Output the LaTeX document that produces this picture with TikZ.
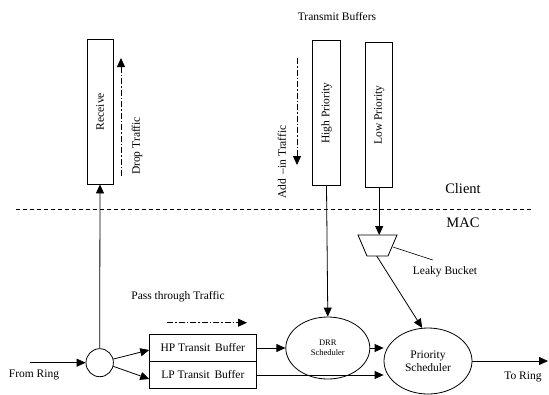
\documentclass[tikz,border=0pt]{standalone}
\usepackage{fontspec}
\setmainfont{Liberation Serif}
\usetikzlibrary{arrows.meta,shapes.geometric,calc}
\begin{document}
\begin{tikzpicture}[x=1pt,y=-1pt,
  line width=0.8pt,
  every node/.style={font=\fontsize{11.5}{13.5}\selectfont},
  arr/.style={-{Triangle[length=9pt,width=8pt]}},
  flow/.style={arr,dash pattern=on 6pt off 2pt on 1.5pt off 2pt},
  bufbox/.style={draw,rectangle,inner sep=0pt},
  sched/.style={draw,ellipse,inner sep=0pt,align=center},
  lbl/.style={inner sep=0pt},
  big/.style={inner sep=0pt,font=\fontsize{14.5}{16}\selectfont}]
\useasboundingbox (0,0) rectangle (549,394);
% client buffers
\node[bufbox,minimum width=26pt,minimum height=145pt] (recv) at (100,111.5) {};
\node[lbl,rotate=90] at (recv) {Receive};
\node[bufbox,minimum width=27.6pt,minimum height=145pt] (hp) at (326.5,113.2) {};
\node[lbl,rotate=90] at (hp) {High Priority};
\node[bufbox,minimum width=27pt,minimum height=144.6pt] (lp) at (379.2,115) {};
\node[lbl,rotate=90] at (lp) {Low Priority};
\node[lbl] (tb) at (337,17) {Transmit Buffers};
% traffic arrows
\coordinate (d1) at (121,176); \coordinate (d2) at (121,58);
\draw[flow] (d1) -- (d2);
\node[lbl,rotate=90] (dt) at (137,146) {Drop Traffic};
\coordinate (a1) at (297,58); \coordinate (a2) at (297,165);
\draw[flow] (a1) -- (a2);
\node[lbl,rotate=90] (at) at (282,162) {Add \,\textendash in Traffic};
% separator
\coordinate (s1) at (16,209.3); \coordinate (s2) at (533,209.3);
\draw[dash pattern=on 4pt off 3pt] (s1) -- (s2);
\node[big] (client) at (463,189) {Client};
\node[big] (mac) at (463,223) {MAC};
% ring side
\node[draw,ellipse,minimum width=27.4pt,minimum height=28pt,inner sep=0pt] (circ) at (99.7,362.7) {};
\coordinate (fr) at (30,362.7);
\draw[arr] (fr) -- (circ.west);
\node[lbl] (frt) at (34,374.5) {From Ring};
\draw[arr] (circ.north) -- (recv.south);
\node[bufbox,minimum width=106.3pt,minimum height=27.4pt] (hpbuf) at (202.8,348) {HP Transit\, Buffer};
\node[bufbox,minimum width=106.3pt,minimum height=26.6pt] (lpbuf) at (202.8,375) {LP Transit\, Buffer};
\draw[arr] (circ.15) -- ([yshift=-2pt]hpbuf.west);
\draw[arr] (circ.-15) -- ([yshift=-4pt]lpbuf.west);
\node[lbl] (pt) at (178,297) {Pass through Traffic};
\coordinate (p1) at (167,322.7); \coordinate (p2) at (247,322.7);
\draw[flow] (p1) -- (p2);
% schedulers
\node[sched,minimum width=84pt,minimum height=62pt,font=\fontsize{8.5}{10}\selectfont] (drr) at (327.8,348) {DRR\\Scheduler};
\node[sched,minimum width=88pt,minimum height=66pt] (prio) at (428,361) {Priority\\Scheduler};
\draw[arr] (hpbuf.east) -- (drr.west);
\draw[arr] (lpbuf.east) -- (lpbuf.east -| prio.west);
\draw[arr] (drr.east) -- (drr.east -| prio.west);
\draw[arr] (hp.south) -- (drr.north);
\coordinate (tr) at (548,361);
\draw[arr] (prio.east) -- (tr);
\node[lbl] (trt) at (523,377) {To Ring};
% leaky bucket
\coordinate (bt) at (379.2,235);
\coordinate (bk1) at (358,235); \coordinate (bk2) at (397,235);
\coordinate (bk3) at (388,256); \coordinate (bk4) at (367,256);
\draw (bk1) -- (bk2) -- (bk3) -- (bk4) -- cycle;
\draw[arr] (lp.south) -- (bt);
\coordinate (bb) at (376.7,256);
\draw[arr] (bb) -- (prio.100);
\coordinate (lb1) at (393,247); \coordinate (lb2) at (432.7,260);
\draw[line width=0.6pt] (lb1) -- (lb2);
\node[lbl] (lbt) at (445,272) {Leaky Bucket};
\end{tikzpicture}
\end{document}
